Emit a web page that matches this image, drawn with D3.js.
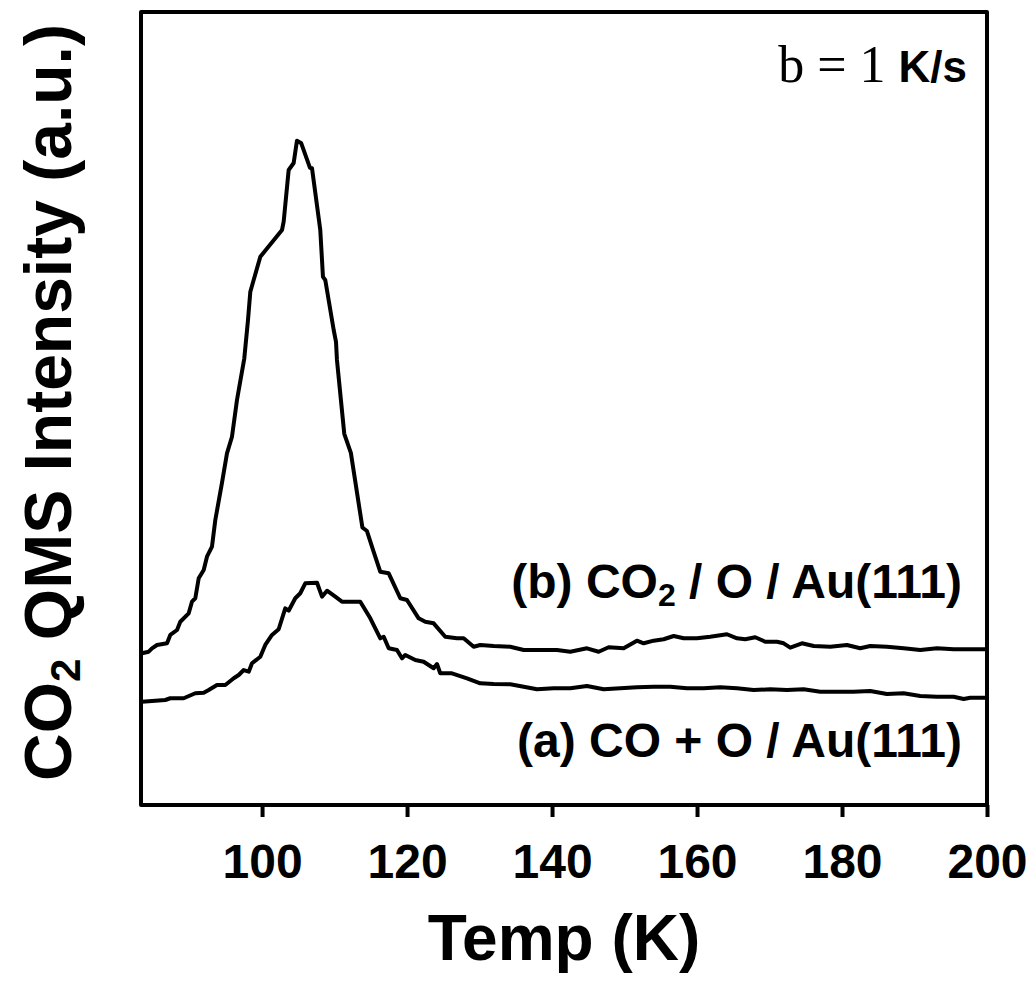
<!DOCTYPE html>
<html lang="en">
<head>
    <meta charset="UTF-8">
    <title>CO2 TPD on Au(111)</title>
    <script src="https://d3js.org/d3.v7.min.js"></script>
    <style>
        body { margin: 0; background: #fff; }
        svg text { font-family: "Liberation Sans", Arial, sans-serif; font-weight: bold; fill: #000; }
        .trace { fill: none; stroke: #000; stroke-width: 4px; stroke-linejoin: round; }
    </style>
</head>
<body>
<script>
    // Temperature (K) and CO2 signal (a.u.)
    const tempB = [83.44, 84.36, 84.82, 85.51, 86.89, 87.34, 88.27, 88.72, 89.88, 90.33, 90.79, 91.26, 91.95, 92.40, 93.09, 93.55,
        94.47, 95.16, 95.85, 96.54, 97.55, 98.06, 98.38, 99.76, 102.75, 102.98, 103.67, 104.36, 104.81, 105.41, 106.61, 106.89,
        108.03, 108.40, 108.72, 109.88, 110.2, 110.33, 111.34, 112.25, 113.84, 114.47, 115.42, 116.3, 117.47, 119.07, 119.99,
        121.6, 122.51, 123.67, 125.27, 126.89, 127.81, 129.19, 130.1, 131.95, 134.24, 136.09, 137.92, 140.68, 142.51, 144.82,
        146.43, 147.81, 149.88, 151.71, 152.64, 154.02, 155.4, 156.78, 158.16, 159.99, 161.82, 164.13, 165.51, 166.65, 168.03,
        169.41, 171.03, 171.95, 172.86, 174.47, 176.09, 178.38, 180.68, 182.51, 183.89, 186.2, 188.5, 190.79, 193.1, 195.4,
        197.69, 199.76];
    const signalB = [19.13, 19.33, 19.76, 20.18, 20.39, 21.44, 22.07, 23.11, 24.17, 25.64, 26.07, 28.59, 29.63, 31.31, 32.57, 35.94,
        40.61, 44.35, 46.44, 51.07, 56.33, 61.16, 64.73, 69.14, 72.51, 73.56, 80.08, 80.96, 83.77, 83.44, 80.35, 80.29,
        72.51, 66.6, 66.2, 59.9, 58.4, 56.12, 46.81, 44.40, 34.99, 34.55, 31.85, 29.42, 29.22, 26.07, 25.85,
        23.54, 23.11, 22.91, 21.22, 21.02, 21.02, 19.96, 20.18, 20.05, 19.96, 19.55, 19.55, 19.55, 19.33, 19.76,
        19.33, 19.89, 19.76, 20.72, 20.39, 20.72, 20.9, 21.31, 21.02, 21.02, 21.22, 21.53, 21.02, 20.9, 21.15,
        20.59, 20.59, 20.39, 19.84, 20.39, 20.05, 19.96, 20.18, 19.76, 20.05, 19.96, 19.76, 19.55, 19.76, 19.63,
        19.63, 19.63];

    const tempA = [83.44, 86.65, 87.34, 89.19, 90.79, 91.95, 92.64, 93.78, 94.93, 96.09, 96.78, 97.47, 98.16, 98.61, 99.76, 100.44,
        101.37, 102.29, 103.2, 103.67, 104.58, 105.27, 105.96, 107.58, 108.27, 108.96, 110.1, 111.02, 113.55, 114.93, 116.31,
        116.78, 117.47, 118.61, 119.3, 119.76, 121.14, 122.29, 123.67, 124.13, 124.58, 126.19, 128.27, 130.1, 131.95, 134.24,
        136.09, 137.92, 140.22, 142.51, 144.82, 147.12, 149.41, 151.71, 154.02, 156.31, 158.61, 160.91, 163.2, 165.51, 167.81,
        170.1, 172.4, 174.71, 177.0, 179.3, 181.6, 183.89, 186.2, 188.5, 190.79, 193.1, 195.4, 196.78, 197.69, 199.76];
    const signalA = [13.03, 13.24, 13.46, 13.46, 14.09, 14.16, 14.5, 15.13, 15.13, 15.98, 16.39, 17.02, 16.81, 17.87, 18.7, 20.18,
        21.44, 22.16, 24.8, 24.5, 26.07, 26.7, 27.96, 28.03, 26.27, 27.02, 26.27, 25.64, 25.64, 23.54, 21.02,
        21.22, 19.76, 19.55, 18.5, 18.92, 18.28, 18.07, 17.24, 17.78, 16.61, 16.61, 15.98, 15.35, 15.26, 15.22,
        14.92, 14.59, 14.72, 14.72, 15.01, 14.59, 14.72, 14.84, 14.92, 14.92, 14.72, 14.72, 14.84, 14.72, 14.5,
        14.59, 14.5, 14.59, 14.29, 14.29, 14.29, 14.38, 14.0, 14.09, 13.75, 13.66, 13.66, 13.37, 13.53, 13.53];

    const xTicks = [100, 120, 140, 160, 180, 200];

    const width = 1035, height = 982;
    const plotL = 141, plotR = 987, plotT = 12, plotB = 805;

    const svg = d3.select("body").append("svg")
        .attr("width", width)
        .attr("height", height);

    const x = d3.scaleLinear().domain([83.3, 200]).range([plotL, plotR]);
    const y = d3.scaleLinear().domain([0, 100]).range([plotB, plotT]);

    const line = d3.line().x(d => x(d[0])).y(d => y(d[1]));

    svg.append("path").attr("class", "trace")
        .attr("d", line(d3.zip(tempA, signalA)));
    svg.append("path").attr("class", "trace")
        .attr("d", line(d3.zip(tempB, signalB)));

    // bottom axis, ticks pointing out
    const xAxis = svg.append("g")
        .attr("transform", `translate(0,${plotB})`)
        .call(d3.axisBottom(x).tickValues(xTicks).tickSize(12).tickSizeOuter(0).tickFormat(d3.format("d")));
    xAxis.select(".domain").remove();
    xAxis.selectAll(".tick line").attr("stroke", "#000").attr("stroke-width", 4);
    xAxis.selectAll(".tick text")
        .attr("y", 73).attr("dy", 0)
        .style("font-size", "48px");

    // frame
    svg.append("rect")
        .attr("x", plotL).attr("y", plotT)
        .attr("width", plotR - plotL).attr("height", plotB - plotT)
        .attr("fill", "none").attr("stroke", "#000").attr("stroke-width", 4)
        .attr("stroke-linejoin", "round");

    // axis titles
    svg.append("text")
        .attr("x", (plotL + plotR) / 2).attr("y", 960)
        .attr("text-anchor", "middle")
        .style("font-size", "64px")
        .text("Temp (K)");

    const yTitle = svg.append("text")
        .attr("transform", `translate(71,${(plotT + plotB) / 2 - 6}) rotate(-90)`)
        .attr("text-anchor", "middle")
        .style("font-size", "66px");
    yTitle.append("tspan").text("CO");
    yTitle.append("tspan").attr("dy", 9).style("font-size", "42px").text("2");
    yTitle.append("tspan").attr("dy", -9).text(" QMS Intensity (a.u.)");

    // heating rate
    const rate = svg.append("text")
        .attr("x", 967).attr("y", 82)
        .attr("text-anchor", "end");
    rate.append("tspan")
        .style("font-family", "'Liberation Serif', 'Times New Roman', serif")
        .style("font-weight", "normal")
        .style("font-size", "52px")
        .text("b = 1 ");
    rate.append("tspan").style("font-size", "44px").text("K/s");

    // trace labels
    const labB = svg.append("text")
        .attr("x", 962).attr("y", 598)
        .attr("text-anchor", "end")
        .style("font-size", "48px");
    labB.append("tspan").text("(b) CO");
    labB.append("tspan").attr("dy", 8).style("font-size", "32px").text("2");
    labB.append("tspan").attr("dy", -8).text(" / O / Au(111)");

    svg.append("text")
        .attr("x", 962).attr("y", 757)
        .attr("text-anchor", "end")
        .style("font-size", "48px")
        .text("(a) CO + O / Au(111)");
</script>
</body>
</html>
